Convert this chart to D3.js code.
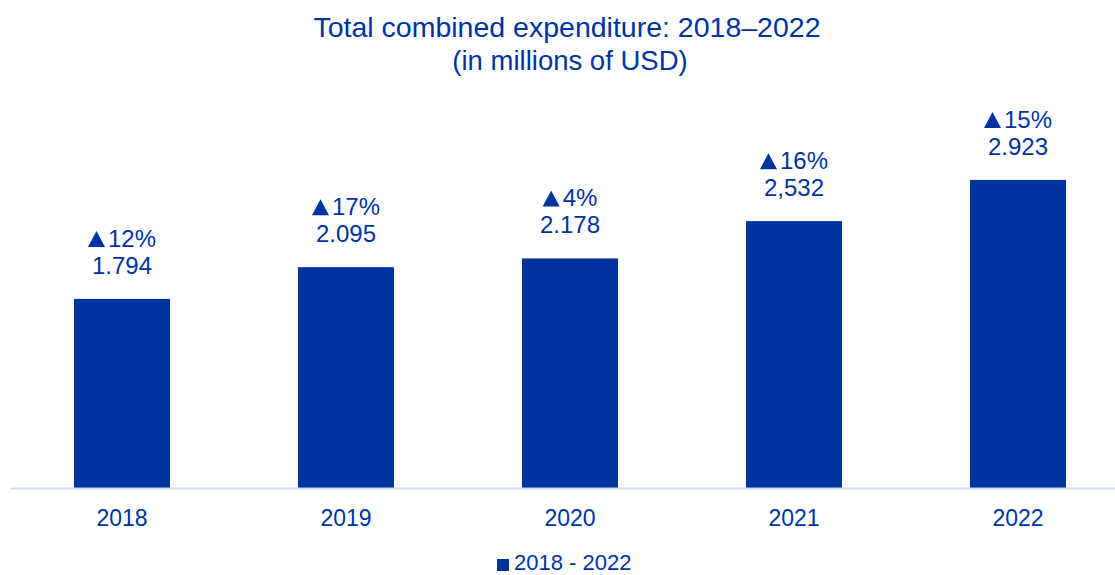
<!DOCTYPE html>
<html>
<head>
<meta charset="utf-8">
<script src="https://cdn.jsdelivr.net/npm/d3@7"></script>
<style>
  html, body { margin: 0; padding: 0; background: #fff; }
  svg text { font-family: "Liberation Sans", Arial, sans-serif; fill: #0033a0; }
</style>
</head>
<body>
<div id="chart"></div>
<script>
// data
var years = ['2018', '2019', '2020', '2021', '2022'];
var spend = [1794, 2095, 2178, 2532, 2923];
var spendLabels = ['1.794', '2.095', '2.178', '2,532', '2.923'];
var growth = ['12%', '17%', '4%', '16%', '15%'];
var seriesName = '2018 - 2022';

var width = 1115, height = 575;
var blue = '#0033a0';

var svg = d3.select('#chart').append('svg')
  .attr('width', width)
  .attr('height', height);

var x = d3.scaleBand()
  .domain(years)
  .range([10, 1130])
  .paddingInner(0.5714)
  .paddingOuter(0.2857);

var y = d3.scaleLinear()
  .domain([0, 3000])
  .range([488, 171.8]);

// title
svg.append('text')
  .attr('x', 567).attr('y', 37)
  .attr('text-anchor', 'middle')
  .style('font-size', '28.5px')
  .text('Total combined expenditure: 2018\u20132022');
svg.append('text')
  .attr('x', 570).attr('y', 70)
  .attr('text-anchor', 'middle')
  .style('font-size', '27.5px')
  .text('(in millions of USD)');

// bars
var rows = years.map(function(d, i) {
  return { year: d, v: spend[i], lab: spendLabels[i], g: growth[i] };
});

svg.selectAll('rect.bar')
  .data(rows)
  .enter().append('rect')
  .attr('class', 'bar')
  .attr('x', function(d) { return x(d.year); })
  .attr('y', function(d) { return y(d.v); })
  .attr('width', x.bandwidth())
  .attr('height', function(d) { return y(0) - y(d.v); })
  .attr('fill', blue);

// axis line
svg.append('line')
  .attr('x1', 10).attr('x2', 1130)
  .attr('y1', y(0) + 0.5).attr('y2', y(0) + 0.5)
  .attr('stroke', '#c9daf8')
  .attr('stroke-width', 2);

// value labels
var lab = svg.selectAll('g.lab')
  .data(rows)
  .enter().append('g')
  .attr('class', 'lab')
  .attr('transform', function(d) {
    return 'translate(' + (x(d.year) + x.bandwidth() / 2) + ',' + y(d.v) + ')';
  });
lab.append('text')
  .attr('y', -25)
  .attr('text-anchor', 'middle')
  .style('font-size', '24px')
  .text(function(d) { return d.lab; });

// growth line: up triangle + percent, centred together
var triW = 17, triH = 16, gap = 3;
lab.each(function(d) {
  var g = d3.select(this);
  var t = g.append('text')
    .attr('y', -52)
    .style('font-size', '24px')
    .text(d.g);
  var tw = t.node().getComputedTextLength();
  var x0 = -(triW + gap + tw) / 2;
  t.attr('x', x0 + triW + gap);
  var p = d3.path();
  p.moveTo(x0, -52);
  p.lineTo(x0 + triW, -52);
  p.lineTo(x0 + triW / 2, -52 - triH);
  p.closePath();
  g.append('path').attr('d', p.toString()).attr('fill', blue);
});

// x tick labels
svg.selectAll('text.tick')
  .data(years)
  .enter().append('text')
  .attr('class', 'tick')
  .attr('x', function(d) { return x(d) + x.bandwidth() / 2; })
  .attr('y', 526)
  .attr('text-anchor', 'middle')
  .style('font-size', '23px')
  .text(function(d) { return d; });

// legend
svg.append('rect')
  .attr('x', 497).attr('y', 559)
  .attr('width', 12).attr('height', 12)
  .attr('fill', blue);
svg.append('text')
  .attr('x', 514).attr('y', 570)
  .style('font-size', '22px')
  .text(seriesName);
</script>
</body>
</html>
